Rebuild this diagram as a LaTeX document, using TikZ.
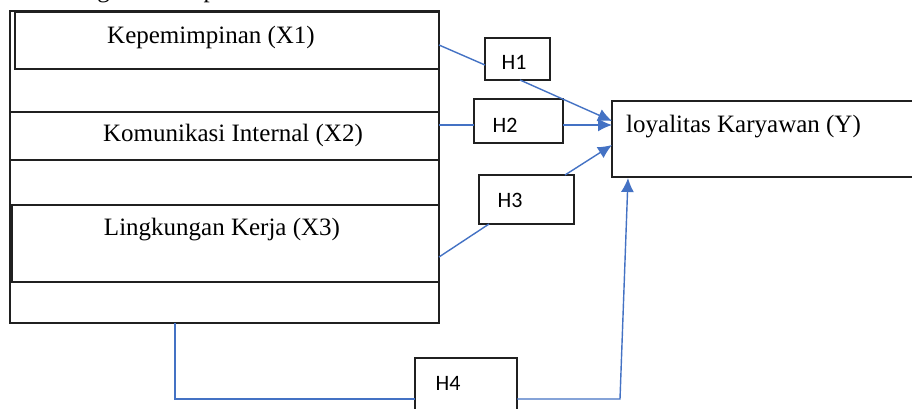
\documentclass[tikz,border=0pt]{standalone}
\usepackage{fontspec}
\setmainfont{Liberation Serif}
\newfontfamily\hfont{Carlito}
\usetikzlibrary{arrows.meta}
\definecolor{linkblue}{HTML}{4472C4}
\definecolor{boxline}{HTML}{202020}
\tikzset{
  boxx/.style={draw=boxline, line width=1.4pt, inner sep=0pt, outer sep=0pt, fill=none},
  vartext/.style={font=\fontsize{25}{29}\selectfont, inner sep=0pt},
  hbox/.style={draw=boxline, line width=1.4pt, inner sep=0pt, outer sep=0pt, fill=white},
  htext/.style={font=\hfont\fontsize{22}{26}\selectfont, inner sep=0pt},
  link/.style={draw=linkblue, line width=1.4pt},
  arr/.style={link, -{Latex[length=14pt,width=13pt]}}
}
\begin{document}
\begin{tikzpicture}[x=1pt,y=-1pt]
\clip (0,0) rectangle (912,408);
\fill[white] (0,0) rectangle (912,408);
% cut-off title (only descenders visible)
\node[vartext, anchor=base west] (title) at (36,-2.5) {Kerangka Konseptual};
% left column
\node[boxx, minimum width=429pt, minimum height=312pt] (outer) at (224.5,167) {};
\node[boxx, minimum width=424pt, minimum height=57pt] (x1box) at (227,40.5) {};
\node[boxx, minimum width=429pt, minimum height=48pt] (x2box) at (224.5,136) {};
\node[boxx, minimum width=427pt, minimum height=77pt] (x3box) at (225.5,243.5) {};
\draw[boxline, line width=2.4pt] (x3box.north west) -- (x3box.south west);
\node[vartext] (x1) at (211,37) {Kepemimpinan (X1)};
\node[vartext] (x2) at (233,135) {Komunikasi Internal (X2)};
\node[vartext] (x3) at (222,230) {Lingkungan Kerja (X3)};
% Y box
\node[boxx, minimum width=308pt, minimum height=76pt] (ybox) at (766,139) {};
\node[vartext, anchor=west] (y) at (626,127) {loyalitas Karyawan (Y)};
% H boxes
\node[hbox, minimum width=65pt, minimum height=42pt] (h1box) at (517.5,59) {};
\node[htext] (h1) at (514,62) {H1};
\node[hbox, minimum width=89pt, minimum height=44pt] (h2box) at (518.5,121) {};
\node[htext] (h2) at (505,125) {H2};
\node[hbox, minimum width=95pt, minimum height=49pt] (h3box) at (526.5,199.5) {};
\node[htext] (h3) at (510,200) {H3};
\node[hbox, minimum width=102pt, minimum height=62pt] (h4box) at (466,389) {};
\node[htext] (h4) at (448,383) {H4};
% connector coordinates
\coordinate (a1) at (439,45);
\coordinate (b1) at (485,65);
\coordinate (c1) at (520,80);
\coordinate (t1) at (612,121);
\coordinate (a2) at (439,125);
\coordinate (t2) at (612,125);
\coordinate (a3) at (439,257);
\coordinate (b3) at (489,224);
\coordinate (c3) at (565,175);
\coordinate (t3) at (612,145);
\coordinate (a4) at (175,323);
\coordinate (k4) at (175,399);
\coordinate (m4) at (620,399);
\coordinate (t4) at (628,178);
% connectors
\draw[link] (a1) -- (b1);
\draw[arr] (c1) -- (t1);
\draw[link] (a2) -- (h2box.west |- a2);
\draw[arr] (h2box.east |- t2) -- (t2);
\draw[link] (a3) -- (b3);
\draw[arr] (c3) -- (t3);
\draw[link] (a4) -- (k4) -- (h4box.west |- k4);
\draw[arr] (h4box.east |- m4) -- (m4) -- (t4);
\end{tikzpicture}
\end{document}
